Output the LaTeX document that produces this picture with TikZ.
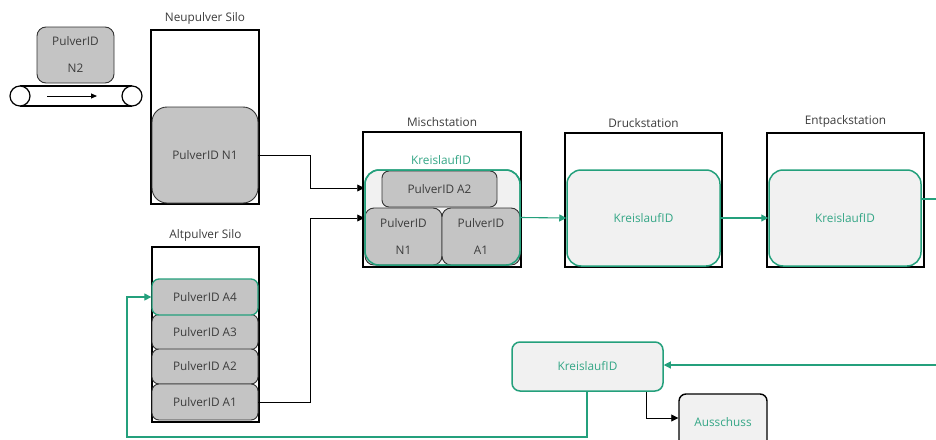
\documentclass[tikz,border=0pt]{standalone}
\usepackage{fontspec}
\setmainfont{Open Sans}
\usetikzlibrary{arrows.meta,positioning}
\definecolor{kgreen}{RGB}{36,160,124}
\definecolor{ktext}{RGB}{52,166,134}
\definecolor{pgray}{RGB}{196,196,196}
\definecolor{lgray}{RGB}{241,241,241}
\definecolor{dtext}{RGB}{60,60,60}
\tikzset{
  station/.style={draw=black, line width=1.6pt, inner sep=0pt, fill=none},
  stlabel/.style={text=dtext},
  pbox/.style={draw=black!80, line width=0.9pt, fill=pgray, rounded corners=7pt,
    inner sep=0pt, text=dtext, align=center},
  kbox/.style={draw=kgreen, line width=1.5pt, fill=lgray, rounded corners=14pt,
    inner sep=0pt, text=ktext},
  arr/.style={draw=black, line width=0.8pt, -{Triangle[length=7pt,width=7pt]}},
  garr/.style={draw=kgreen, line width=1.1pt, -{Triangle[length=7pt,width=7pt]}},
  gline/.style={draw=kgreen, line width=1.1pt},
}
\begin{document}
\begin{tikzpicture}[x=1pt, y=-1pt, font=\fontsize{11.8}{14}\selectfont]
\clip (0,0) rectangle (936,439);
\fill[white] (0,0) rectangle (936,439);

% conveyor belt with powder N2
\draw[line width=1.2pt] (20,86) -- (132,86) (20,106) -- (132,106);
\draw[line width=1.2pt, fill=white] (20,96) circle (10pt);
\draw[line width=1.2pt, fill=white] (132,96) circle (10pt);
\draw[line width=0.9pt, -{Triangle[length=6pt,width=5pt]}] (47,96) -- (97,96);
\node[pbox, rounded corners=9pt, minimum width=77pt, minimum height=56pt] (n2) at (75.5,55) {PulverID\\[13pt]N2};

% Neupulver silo
\node[station, minimum width=108pt, minimum height=174pt] (silonew) at (205,117) {};
\node[stlabel, above=1pt of silonew.north] {Neupulver Silo};
\node[pbox, rounded corners=15pt, minimum width=106pt, minimum height=96pt] (n1) at (205,155) {PulverID N1};

% Altpulver silo
\node[station, minimum width=107pt, minimum height=175pt] (siloold) at (205.5,334.5) {};
\node[stlabel, above=1pt of siloold.north] {Altpulver Silo};
\node[pbox, minimum width=106pt, minimum height=35pt] (a3) at (205,332) {PulverID A3};
\node[pbox, minimum width=106pt, minimum height=35pt] (a2) at (205,366.5) {PulverID A2};
\node[pbox, minimum width=106pt, minimum height=36pt] (a1) at (205,402) {PulverID A1};
\node[pbox, draw=kgreen, line width=1.3pt, minimum width=106pt, minimum height=36pt] (a4) at (205,297) {PulverID A4};

% Mischstation
\node[station, minimum width=158pt, minimum height=135pt] (misch) at (442,199.5) {};
\node[stlabel, above=1pt of misch.north] {Mischstation};
\node[kbox, minimum width=155pt, minimum height=95pt] (mk) at (442.5,217.5) {};
\node[text=ktext] (mklabel) at (441,160) {KreislaufID};
\node[pbox, minimum width=115pt, minimum height=36pt] (ma2) at (439.5,189) {PulverID A2};
\node[pbox, rounded corners=9pt, minimum width=77pt, minimum height=57pt] (mn1) at (403.5,236.5) {PulverID\\[13pt]N1};
\node[pbox, rounded corners=9pt, minimum width=78pt, minimum height=57pt] (ma1) at (481,236.5) {PulverID\\[13pt]A1};
\draw[kgreen, line width=1.5pt, rounded corners=14pt] (365,170) rectangle (520,265);

% Druckstation
\node[station, minimum width=157pt, minimum height=134pt] (druck) at (643.5,200) {};
\node[stlabel, above=1pt of druck.north] {Druckstation};
\node[kbox, minimum width=153pt, minimum height=96pt] (dk) at (643.5,218) {KreislaufID};

% Entpackstation
\node[station, minimum width=157pt, minimum height=134pt] (entp) at (845.5,200) {};
\node[stlabel, above=1pt of entp.north] {Entpackstation};
\node[kbox, minimum width=152pt, minimum height=96pt] (ek) at (845,218) {KreislaufID};

% sorting stage
\node[kbox, rounded corners=8pt, minimum width=151pt, minimum height=49pt] (kb) at (587.5,366.5) {KreislaufID};
\node[pbox, fill=lgray, draw=black, line width=1.4pt, text=ktext, minimum width=88pt, minimum height=56pt] (au) at (723,422) {Ausschuss};

% powder flow into the mixer
\draw[arr] (n1.east) -| (310,188) -- (mk.west |- 0,188);
\draw[arr] (a1.east) -| (310,218) -- (mk.west |- 0,218);

% circulation flow
\draw[garr] (mk.east) -- (dk.west);
\draw[garr] (dk.east) -- (ek.west);
\draw[gline] (ek.east |- 0,199) -- (940,199);
\draw[garr] (940,365) -- (kb.east |- 0,365);
\draw[arr] (kb.south -| 646,0) |- (au.west |- 0,418);
\draw[garr] (kb.south -| 587,0) |- (127,437) |- (a4.west);
\end{tikzpicture}
\end{document}
